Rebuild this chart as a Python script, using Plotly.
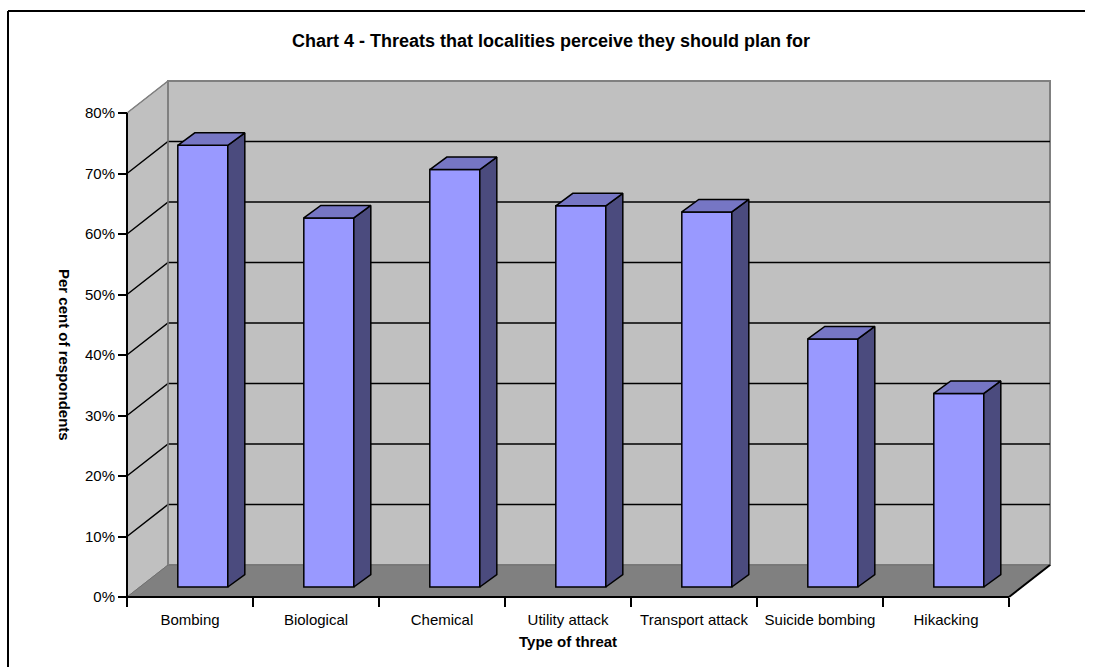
import plotly.graph_objects as go

# ---- data ----
categories = ["Bombing", "Biological", "Chemical", "Utility attack",
              "Transport attack", "Suicide bombing", "Hikacking"]
values = [73, 61, 69, 63, 62, 41, 32]
tick_vals = [0, 10, 20, 30, 40, 50, 60, 70, 80]
tick_text = [f"{v}%" for v in tick_vals]
title_text = "Chart 4 - Threats that localities perceive they should plan for"
x_title = "Type of threat"
y_title = "Per cent of respondents"

# ---- layout geometry (pixels) ----
W, H = 1093, 667
X0, UX = 127, 126.0      # px of x=0, px per category
Y0, UY = 597, 6.05       # px of y=0, px per percent
L, R, T, B = 100, 1080, 60, 612   # plot area edges in px

def ux(px):
    return (px - X0) / UX

def uy(py):
    return (Y0 - py) / UY

def paper_x(px):
    return (px - L) / (R - L)

def paper_y(py):
    return (B - py) / (B - T)

DX, DY = 41 / UX, 32 / UY          # wall depth
F0 = 10 / 32                        # bar front depth fraction
BW = 50 / UX                        # bar width
BDX, BDY = 17 / UX, 12.5 / UY       # bar depth
n = len(categories)
ymax = tick_vals[-1]
FONT = "Liberation Sans, Arial, sans-serif"

FRONT = "#9999FF"
TOP = "#7676C4"
SIDE = "#4B4B7E"
WALL = "#C0C0C0"
FLOOR = "#808080"
EDGE = "#808080"

shapes = []
# side wall
shapes.append(dict(type="path", xref="x", yref="y", layer="below",
                   path=f"M 0,0 L {DX},{DY} L {DX},{ymax + DY} L 0,{ymax} Z",
                   fillcolor=WALL, line=dict(color=EDGE, width=1)))
# back wall
shapes.append(dict(type="rect", xref="x", yref="y", layer="below",
                   x0=DX, y0=DY, x1=n + DX, y1=ymax + DY,
                   fillcolor=WALL, line=dict(color=EDGE, width=2)))
# floor
shapes.append(dict(type="path", xref="x", yref="y", layer="below",
                   path=f"M 0,0 L {n},0 L {n + DX},{DY} L {DX},{DY} Z",
                   fillcolor=FLOOR, line=dict(color="#707070", width=1)))
# gridlines
for v in tick_vals[1:-1]:
    shapes.append(dict(type="path", xref="x", yref="y", layer="below",
                       path=f"M 0,{v} L {DX},{v + DY} L {n + DX},{v + DY}",
                       line=dict(color="black", width=1.5)))
shapes.append(dict(type="line", xref="x", yref="y", layer="below",
                   x0=0, y0=ymax, x1=DX, y1=ymax + DY,
                   line=dict(color=EDGE, width=1.5)))
shapes.append(dict(type="line", xref="x", yref="y", layer="below",
                   x0=DX, y0=DY, x1=DX, y1=ymax + DY,
                   line=dict(color=EDGE, width=1.5)))
# front axis lines
shapes.append(dict(type="line", xref="x", yref="y", x0=0, y0=0, x1=0, y1=ymax,
                   line=dict(color="black", width=2)))
shapes.append(dict(type="line", xref="x", yref="y", x0=0, y0=0, x1=n, y1=0,
                   line=dict(color="black", width=2)))
shapes.append(dict(type="line", xref="x", yref="y", x0=n, y0=0, x1=n + DX, y1=DY,
                   line=dict(color="black", width=2)))
# chart border (left and top visible)
shapes.append(dict(type="line", xref="paper", yref="paper",
                   x0=paper_x(8), y0=paper_y(11), x1=paper_x(8), y1=paper_y(H),
                   line=dict(color="black", width=2)))
shapes.append(dict(type="line", xref="paper", yref="paper",
                   x0=paper_x(8), y0=paper_y(11), x1=paper_x(W - 8), y1=paper_y(11),
                   line=dict(color="black", width=2)))

# bars
base = F0 * DY
xc = [i + 0.5 + F0 * DX for i in range(n)]

side_x, side_y, top_x, top_y = [], [], [], []
for c, v in zip(xc, values):
    xl, xr = c - BW / 2, c + BW / 2
    yt = base + v
    side_x += [xr, xr + BDX, xr + BDX, xr, xr, None]
    side_y += [base, base + BDY, yt + BDY, yt, base, None]
    top_x += [xl, xl + BDX, xr + BDX, xr, xl, None]
    top_y += [yt, yt + BDY, yt + BDY, yt, yt, None]

fig = go.Figure()
fig.add_trace(go.Bar(x=xc, y=values, base=base, width=BW,
                     marker=dict(color=FRONT, line=dict(color="black", width=1.5)),
                     hoverinfo="skip"))
fig.add_trace(go.Scatter(x=side_x, y=side_y, mode="lines", fill="toself",
                         fillcolor=SIDE, line=dict(color="black", width=1.5),
                         hoverinfo="skip"))
fig.add_trace(go.Scatter(x=top_x, y=top_y, mode="lines", fill="toself",
                         fillcolor=TOP, line=dict(color="black", width=1.5),
                         hoverinfo="skip"))

fig.update_layout(
    width=W, height=H, autosize=False,
    margin=dict(l=L, r=W - R, t=T, b=H - B, autoexpand=False),
    paper_bgcolor="white", plot_bgcolor="rgba(0,0,0,0)",
    showlegend=False, barmode="overlay",
    font=dict(family=FONT, size=15, color="black"),
    title=dict(text=f"<b>{title_text}</b>", x=551 / W, xref="container",
               xanchor="center", y=1 - 41 / H, yref="container", yanchor="middle",
               font=dict(family=FONT, size=18, color="black")),
    xaxis=dict(range=[ux(L), ux(R)], anchor="free", position=paper_y(Y0),
               tickmode="array", tickvals=[i + 0.5 for i in range(n)],
               ticktext=categories, ticks="outside", ticklen=9,
               tickcolor="rgba(0,0,0,0)", showgrid=False, zeroline=False,
               showline=False, fixedrange=True,
               tickfont=dict(family=FONT, size=15, color="black"),
               minor=dict(tickmode="linear", tick0=0, dtick=1, ticks="outside",
                          ticklen=9, tickwidth=2, tickcolor="black", showgrid=False)),
    yaxis=dict(range=[uy(B), uy(T)], anchor="free", position=paper_x(X0),
               tickmode="array", tickvals=tick_vals, ticktext=tick_text,
               ticks="outside", ticklen=9, tickwidth=2, tickcolor="black",
               showgrid=False, zeroline=False, showline=False, fixedrange=True,
               tickfont=dict(family=FONT, size=15, color="black")),
    shapes=shapes,
    annotations=[
        dict(text=f"<b>{x_title}</b>", xref="paper", yref="paper",
             x=paper_x(568), y=paper_y(641), xanchor="center", yanchor="middle",
             showarrow=False, font=dict(family=FONT, size=15, color="black")),
        dict(text=f"<b>{y_title}</b>", xref="paper", yref="paper",
             x=paper_x(65), y=paper_y(355), xanchor="center", yanchor="middle",
             textangle=90, showarrow=False,
             font=dict(family=FONT, size=15, color="black")),
    ],
)

fig.write_html("out.html")
